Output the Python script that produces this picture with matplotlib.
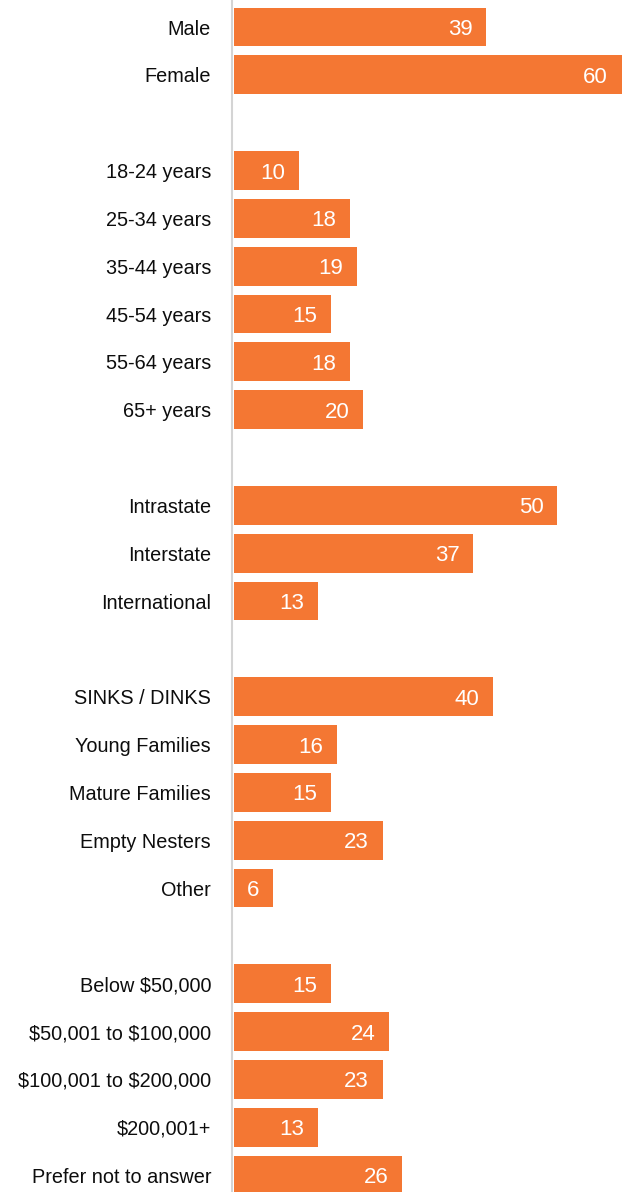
import matplotlib.pyplot as plt
from matplotlib import font_manager

# respondent profile, grouped; None marks a spacer row between groups
labels = [
    "Male", "Female", None,
    "18-24 years", "25-34 years", "35-44 years", "45-54 years", "55-64 years", "65+ years", None,
    "Intrastate", "Interstate", "International", None,
    "SINKS / DINKS", "Young Families", "Mature Families", "Empty Nesters", "Other", None,
    "Below $50,000", "$50,001 to $100,000", "$100,001 to $200,000", "$200,001+", "Prefer not to answer",
]
values = [
    39, 60, None,
    10, 18, 19, 15, 18, 20, None,
    50, 37, 13, None,
    40, 16, 15, 23, 6, None,
    15, 24, 23, 13, 26,
]

names = {f.name for f in font_manager.fontManager.ttflist}
narrow = "Liberation Sans Narrow" in names
plt.rcParams["font.family"] = ["Liberation Sans Narrow" if narrow else "Liberation Sans", "DejaVu Sans"]
plt.rcParams["text.parse_math"] = False
label_size = 17 if narrow else 14.3
value_size = 18 if narrow else 16

bar_color = "#F47733"

fig = plt.figure(figsize=(6.22, 11.92), dpi=100)
ax = fig.add_axes([234 / 622, 0, 1 - 234 / 622, 1])

rows = [i for i, v in enumerate(values) if v is not None]
vals = [values[i] for i in rows]
ax.barh(rows, vals, height=0.81, color=bar_color)

for r, v in zip(rows, vals):
    ax.annotate(str(v), (v, r), xytext=(-10, 0), textcoords="offset points",
                ha="right", va="center_baseline", color="white", fontsize=value_size)

pitch = 1148 / 24
ax.set_xlim(0, 60)
ax.set_ylim(24 + 17 / pitch, -27 / pitch)

ax.set_yticks(rows)
ax.set_yticklabels([labels[i] for i in rows])
ax.tick_params(axis="y", length=0, pad=15, labelsize=label_size, labelcolor="#0d0d0d")
ax.set_xticks([])

for s in ["top", "right", "bottom"]:
    ax.spines[s].set_visible(False)
ax.spines["left"].set_color("#d4d4d4")
ax.spines["left"].set_linewidth(1.5)
ax.spines["left"].set_position(("outward", 1.5))

fig.savefig("out.png", dpi=100)
